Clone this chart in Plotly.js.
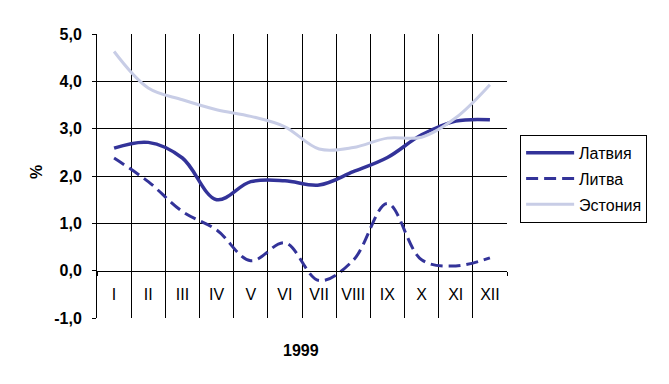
<!DOCTYPE html>
<html>
<head>
<meta charset="utf-8">
<script src="https://cdn.plot.ly/plotly-3.0.1.min.js"></script>
<style>html,body{margin:0;padding:0;background:#fff}#chart{width:669px;height:384px}</style>
</head>
<body>
<div id="chart"></div>
<script>
const months = ["I","II","III","IV","V","VI","VII","VIII","IX","X","XI","XII"];
const latvia = [2.59, 2.71, 2.38, 1.50, 1.88, 1.90, 1.81, 2.09, 2.39, 2.87, 3.16, 3.19];
const lithuania = [2.38, 1.88, 1.25, 0.86, 0.21, 0.59, -0.21, 0.22, 1.42, 0.23, 0.10, 0.27];
const estonia = [4.63, 3.86, 3.61, 3.40, 3.26, 3.04, 2.57, 2.60, 2.80, 2.82, 3.23, 3.93];
const seriesNames = ["Латвия", "Литва", "Эстония"];
const yTicks = [-1, 0, 1, 2, 3, 4, 5];
const yTickText = ["-1,0", "0,0", "1,0", "2,0", "3,0", "4,0", "5,0"];
const hGridTicks = [1, 2, 3, 4];
const vGridTicks = [0.5, 1.5, 2.5, 3.5, 4.5, 5.5, 6.5, 7.5, 8.5, 9.5, 10.5];
const xTitle = "1999";
const yTitle = "%";

const FONT = "Liberation Sans, Arial, sans-serif";
const traces = [
  {x: [], y: [], xaxis: "x2", yaxis: "y2", type: "scatter", mode: "lines", showlegend: false, hoverinfo: "skip"},
  {x: months, y: latvia, name: seriesNames[0], type: "scatter", mode: "lines", legendgroup: "a",
   line: {color: "#333399", width: 3.5, shape: "spline", smoothing: 1}},
  {x: months, y: lithuania, name: seriesNames[1], type: "scatter", mode: "lines", legendgroup: "b",
   line: {color: "#333399", width: 3, shape: "spline", smoothing: 1, dash: "12px,6px"}},
  {x: months, y: estonia, name: seriesNames[2], type: "scatter", mode: "lines", legendgroup: "c",
   line: {color: "#c8cde6", width: 3, shape: "spline", smoothing: 1}}
];

const layout = {
  width: 669, height: 384,
  margin: {l: 97, r: 162, t: 34, b: 66},
  paper_bgcolor: "#fff", plot_bgcolor: "rgba(0,0,0,0)",
  font: {family: FONT, size: 16, color: "#000"},
  showlegend: true,
  xaxis: {
    type: "category", range: [-0.5, 11.5], tickson: "boundaries",
    showgrid: false,
    showline: true, linecolor: "#000", linewidth: 1,
    ticks: "outside", ticklen: 4, tickcolor: "#000",
    anchor: "free", position: 1/6, ticklabelstandoff: 9,
    tickfont: {family: FONT, size: 16, color: "#000"},
    zeroline: false, fixedrange: true
  },
  xaxis2: {
    range: [-0.5, 11.5], tickvals: vGridTicks, overlaying: "x", anchor: "y2",
    showgrid: true, gridcolor: "#000", gridwidth: 1,
    showticklabels: false, ticks: "", zeroline: false, showline: false, fixedrange: true
  },
  yaxis: {
    range: [-1, 5], tickvals: yTicks, ticktext: yTickText,
    showgrid: false, zeroline: false,
    showline: true, linecolor: "#000", linewidth: 1,
    ticks: "outside", ticklen: 4, tickcolor: "#000", ticklabelstandoff: 7,
    tickfont: {family: FONT, size: 16, color: "#000", weight: "bold"},
    fixedrange: true
  },
  yaxis2: {
    range: [-1, 5], tickvals: hGridTicks, overlaying: "y", anchor: "x2", side: "left",
    showgrid: true, gridcolor: "#000", gridwidth: 1,
    showticklabels: false, ticks: "", zeroline: false, showline: false, fixedrange: true
  },
  legend: {
    x: 1.032, y: 0.645, xanchor: "left", yanchor: "top",
    bordercolor: "#000", borderwidth: 1, bgcolor: "#fff",
    font: {family: FONT, size: 16, color: "#000"},
    traceorder: "grouped", tracegroupgap: 2, itemwidth: 48
  },
  annotations: [
    {text: xTitle, xref: "paper", yref: "paper", x: 0.4976, y: -0.113, xanchor: "center", yanchor: "middle",
     showarrow: false, font: {family: FONT, size: 16, color: "#000", weight: "bold"}},
    {text: yTitle, xref: "paper", yref: "paper", x: -0.149, y: 0.514, xanchor: "center", yanchor: "middle",
     textangle: -90, showarrow: false, font: {family: FONT, size: 16, color: "#000", weight: "bold"}}
  ]
};

Plotly.newPlot("chart", traces, layout, {staticPlot: true, displayModeBar: false});
</script>
</body>
</html>
